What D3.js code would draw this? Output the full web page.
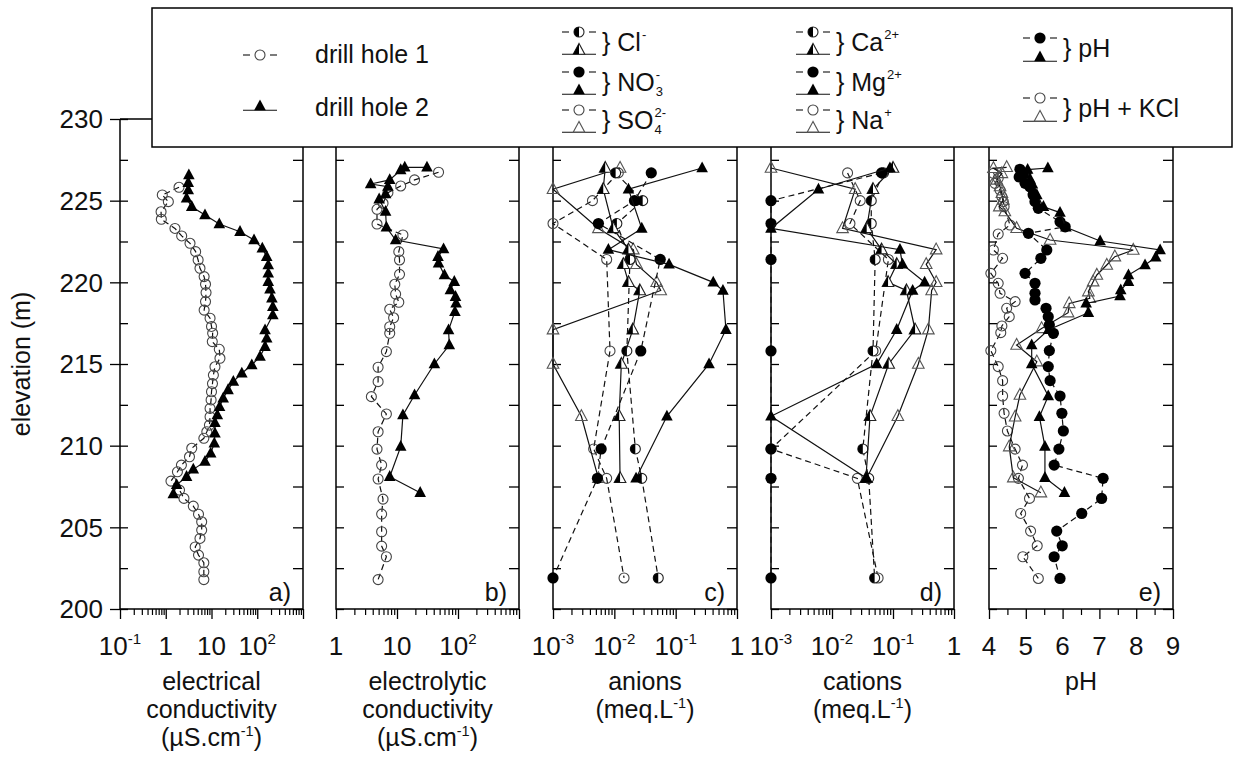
<!DOCTYPE html>
<html><head><meta charset="utf-8">
<script src="https://cdn.jsdelivr.net/npm/d3@7"></script>
<style>
body{margin:0;background:#fff}
svg{display:block}
text{font-family:"Liberation Sans",Arial,Helvetica,sans-serif;fill:#111}
</style>
</head><body>
<svg id="chart" width="1235" height="761"></svg>
<script>
// ================= DATA =================
// panel a) electrical conductivity (µS/cm)
const ecElev1 = [225.82,225.35,224.94,224.32,223.86,223.3,222.84,222.39,221.88,221.37,220.86,220.35,219.88,219.37,218.82,218.3,217.8,217.3,216.88,216.37,215.9,215.35,214.83,214.32,213.8,213.3,212.8,212.28,211.77,211.26,210.85,210.45,209.84,209.32,208.81,208.4,207.83,207.28,206.77,206.3,205.8,205.34,204.83,204.32,203.8,203.3,202.83,202.28,201.8];
const ecVal1 = [1.95,0.84,1.14,0.79,0.8,1.59,2.23,3.39,4.5,5.1,5.6,6.9,7.4,7.6,7.4,6.9,9.3,10,10.6,10.4,14.8,15.3,11.9,11,10.5,10,9.8,9.3,9.3,9.0,7.9,6.8,3.7,3.3,2.2,1.8,1.3,2.0,2.5,4.0,5.2,6.1,6.1,5.6,4.4,5.2,6.8,6.8,6.8];
const ecElev2 = [226.57,226.1,225.65,225.14,224.63,224.12,223.57,223.1,222.59,222.08,221.57,221.06,220.55,220.04,219.58,219.03,218.5,218.0,217.08,216.57,216.06,215.45,214.94,214.43,213.92,213.41,212.9,212.38,211.87,211.4,210.75,210.14,209.53,209.02,208.55,208.1,207.6,207.04];
const ecVal2 = [3.2,3.1,3.1,2.85,3.7,7.2,14.8,42,85,129,161,174,174,174,190,209,219,219,148,161,148,115,76,46,30,23,18,15,13.4,11.9,11.9,11.5,9.6,7.2,4.0,2.85,1.73,1.46];

// panel b) electrolytic conductivity (µS/cm)
const elElev1 = [226.74,226.27,225.9,225.49,224.84,224.47,223.57,222.9,221.88,221.37,220.49,219.88,219.28,218.78,218.35,217.83,217.28,216.88,215.76,214.8,213.92,213.0,211.94,210.85,209.79,208.81,207.96,206.73,205.81,204.73,203.85,203.2,201.8];
const elVal1 = [48,19.4,11.5,7.1,5.9,4.7,4.7,12.5,10.7,11,11,9.2,9.5,10.7,7.6,8.8,7.6,7.6,6.7,4.9,4.9,3.8,6.7,4.9,4.7,5.6,4.9,5.9,5.6,5.6,5.6,6.7,4.9];
const elElev2 = [227.04,227.04,226.88,226.27,226.02,225.86,225.4,225.09,224.33,223.37,222.59,222.04,221.57,221.16,220.45,220.04,219.53,219.12,218.71,218.2,217.08,216.16,215.0,213.1,211.87,209.94,208.1,207.12];
const elVal2 = [31,13.4,11.5,7.6,3.7,7.1,6.5,5.1,6.5,6.7,9.5,58,47,48,60,87,75,91,93,89,70,72,41,19.4,12.5,11.5,7.6,24];

// panels c) and d): sampling elevations (m)
const chemElev1 = [226.7,225.0,223.6,221.4,215.8,209.8,208.0,201.9];
const chemElev2 = [227.0,225.7,223.3,222.0,221.1,220.0,219.5,217.1,215.0,211.8,208.0];
// anions (meq/L)
const cl1  = [0.0105,0.029,0.011,0.018,0.016,0.022,0.028,0.052];
const no3a = [0.04,0.0213,0.0055,0.056,0.027,0.0061,0.0053,0.001];
const so4a = [0.0116,0.0044,0.001,0.0075,0.0085,0.0046,0.0075,0.0144];
const cl2  = [0.0071,0.0066,0.0096,0.017,0.014,0.017,0.026,0.02,0.013,0.012,0.0124];
const no3b = [0.27,0.017,0.028,0.008,0.078,0.41,0.59,0.66,0.35,0.072,0.0226];
const so4b = [0.0124,0.001,0.0055,0.0204,0.023,0.049,0.057,0.001,0.001,0.0029,0.0055];
// cations (meq/L)
const ca1 = [0.07,0.044,0.044,0.051,0.047,0.032,0.04,0.05];
const mg1 = [0.065,0.001,0.001,0.001,0.001,0.001,0.001,0.001];
const na1 = [0.018,0.029,0.0197,0.084,0.052,0.001,0.026,0.057];
const ca2 = [0.1,0.047,0.037,0.065,0.115,0.083,0.166,0.23,0.085,0.042,0.036];
const mg2 = [0.089,0.006,0.001,0.13,0.143,0.33,0.21,0.115,0.054,0.001,0.037];
const na2 = [0.001,0.024,0.0149,0.51,0.35,0.51,0.43,0.38,0.26,0.12,0.037];

// panel e) pH
const phElev1 = [226.92,226.67,226.45,226.06,225.85,225.35,224.94,224.53,223.71,223.4,223.0,221.98,221.47,220.55,219.94,219.33,218.92,218.41,217.9,217.39,216.88,215.82,214.84,213.98,213.04,211.98,210.9,209.79,208.81,208.0,206.77,205.85,204.77,203.87,203.2,201.87];
const phVal1  = [4.84,5.0,4.82,4.98,5.11,5.2,5.25,5.34,5.93,6.07,5.07,5.57,5.41,4.98,5.25,5.25,5.25,5.55,5.61,5.64,5.75,5.64,5.61,5.66,5.93,5.98,6.02,5.9,5.77,7.1,7.06,6.52,5.84,5.99,5.77,5.93];
const kclElev1 = [226.67,226.37,226.06,225.65,225.24,224.94,224.63,223.51,222.96,221.98,221.47,220.55,219.94,219.33,218.82,218.41,217.9,217.33,216.92,215.82,214.84,213.98,213.04,211.98,210.9,209.79,208.81,208.0,206.77,205.85,204.77,203.87,203.2,201.87];
const kclVal1  = [4.12,4.25,4.16,4.3,4.35,4.39,4.41,4.57,4.25,4.12,4.37,4.05,4.25,4.3,4.71,4.48,4.55,4.35,4.32,4.05,4.25,4.37,4.37,4.41,4.5,4.71,4.91,4.8,5.1,4.86,5.13,5.31,4.92,5.34];
const phElev2 = [227.0,226.9,226.3,226.0,225.65,225.35,224.63,224.27,223.37,222.53,221.98,221.53,221.06,220.45,220.04,219.53,219.16,218.71,218.14,217.1,216.16,215.0,213.04,211.77,209.94,208.04,207.12];
const phVal2  = [5.6,5.05,5.12,5.18,5.2,5.3,5.48,5.93,6.09,7.02,8.65,8.53,8.24,7.79,7.79,7.58,7.56,6.64,6.7,5.62,5.16,5.16,5.61,5.37,5.52,5.52,6.05];
const kclElev2 = [227.04,226.98,226.67,226.27,225.86,225.45,225.04,224.63,224.33,223.31,222.59,221.98,221.57,221.06,220.45,220.04,219.43,219.02,218.71,218.14,217.18,216.16,215.14,213.1,211.77,209.94,208.04,207.12];
const kclVal2  = [4.48,4.12,4.35,4.21,4.3,4.35,4.39,4.28,4.43,4.75,5.66,7.92,7.42,7.2,6.93,6.83,6.7,6.74,6.18,6.15,5.43,4.75,5.3,4.84,4.71,4.55,4.66,5.41];

// axis tick labels
const yTickVals = [200,205,210,215,220,225,230];
const ticksA = [[0.1,"10","-1"],[1,"1",""],[10,"10",""],[100,"10","2"]];
const ticksB = [[1,"1",""],[10,"10",""],[100,"10","2"]];
const ticksCD = [[0.001,"10","-3"],[0.01,"10","-2"],[0.1,"10","-1"],[1,"1",""]];
const ticksE = [4,5,6,7,8,9];

// ================= DRAW =================
const svg = d3.select("#chart");
const yTop = 119, yBot = 609;
const y = d3.scaleLinear().domain([200,230]).range([yBot,yTop]);

const panels = [
  {id:"a", x: d3.scaleLog().domain([0.1,1000]).range([120,303]), ticks:ticksA, title:["electrical","conductivity","(µS.cm|-1|)"]},
  {id:"b", x: d3.scaleLog().domain([1,1000]).range([336,519]), ticks:ticksB, title:["electrolytic","conductivity","(µS.cm|-1|)"]},
  {id:"c", x: d3.scaleLog().domain([0.001,1]).range([553,737]), ticks:ticksCD, title:["anions","(meq.L|-1|)"]},
  {id:"d", x: d3.scaleLog().domain([0.001,1]).range([771,954]), ticks:ticksCD, title:["cations","(meq.L|-1|)"]},
  {id:"e", x: d3.scaleLinear().domain([4,9]).range([989,1173]), ticks:null, title:["pH"]}
];

function marker(g, type, cx, cy){
  const r = 5;
  if (type[0]==="c"){
    if (type==="co") g.append("circle").attr("cx",cx).attr("cy",cy).attr("r",r).attr("fill","none").attr("stroke","#444").attr("stroke-width",1.1);
    else if (type==="cf") g.append("circle").attr("cx",cx).attr("cy",cy).attr("r",5.6).attr("fill","#000");
    else {
      g.append("circle").attr("cx",cx).attr("cy",cy).attr("r",r).attr("fill","#fff").attr("stroke","#222").attr("stroke-width",1.1);
      g.append("path").attr("d",`M${cx},${cy-r}A${r},${r} 0 0 0 ${cx},${cy+r}Z`).attr("fill","#000");
    }
  } else {
    const t=-6.6, b=4.2, w=5.8;
    const p = [[cx,cy+t],[cx-w,cy+b],[cx+w,cy+b]];
    const d = "M"+p.map(q=>q.join(",")).join("L")+"Z";
    if (type==="tf") g.append("path").attr("d",d).attr("fill","#000");
    else if (type==="to") g.append("path").attr("d",d).attr("fill","none").attr("stroke","#555").attr("stroke-width",1.1);
    else {
      g.append("path").attr("d",d).attr("fill","#fff").attr("stroke","#222").attr("stroke-width",1.1);
      g.append("path").attr("d",`M${cx},${cy+t}L${cx-w},${cy+b}L${cx},${cy+b}Z`).attr("fill","#000");
    }
  }
}

function series(g, xs, elev, vals, dashed, type){
  const pts = elev.map((e,i)=>[xs(vals[i]), y(e)]);
  g.append("path").attr("d", d3.line()(pts)).attr("fill","none")
    .attr("stroke","#111").attr("stroke-width",1.2)
    .attr("stroke-dasharray", dashed ? "6,4" : null);
  const mg = g.append("g");
  pts.forEach(p=>marker(mg, type, p[0], p[1]));
}

function supText(g, x, y0, parts, size, anchor){
  const [a,b,c] = parts.split("|");
  const t = g.append("text").attr("x",x).attr("y",y0).attr("font-size",size).attr("text-anchor",anchor||"middle");
  t.append("tspan").text(a);
  if (b!==undefined){
    t.append("tspan").attr("font-size",size*0.58).attr("dy",-size*0.42).text(b);
    if (c) t.append("tspan").attr("dy",size*0.42).text(c);
  }
  return t;
}

const minorY = d3.range(200,230.01,2.5);
panels.forEach((P,pi)=>{
  const g = svg.append("g");
  const [x0,x1] = P.x.range();
  g.append("path").attr("d",`M${x0},${yTop}V${yBot}H${x1}V${yTop}H${x0}`).attr("fill","none").attr("stroke","#000").attr("stroke-width",1.5);
  g.append("g").attr("transform",`translate(${x0},0)`)
    .call(d3.axisLeft(y).tickValues(minorY).tickSize(-8).tickSizeOuter(0).tickFormat(""))
    .call(s=>s.select(".domain").remove()).selectAll("line").attr("stroke-width",1.3);
  g.append("g").attr("transform",`translate(${x1},0)`)
    .call(d3.axisRight(y).tickValues(minorY).tickSize(-10).tickSizeOuter(0).tickFormat(""))
    .call(s=>s.select(".domain").remove()).selectAll("line").attr("stroke-width",1.3);
  if (pi===0){
    g.append("g").attr("transform",`translate(${x0},0)`)
      .call(d3.axisLeft(y).tickValues(yTickVals).tickSize(10).tickSizeOuter(0).tickFormat(""))
      .call(s=>s.select(".domain").remove()).selectAll("line").attr("stroke-width",1.3);
    yTickVals.forEach(v=>{
      g.append("text").attr("x",103).attr("y",y(v)).attr("dy","0.36em").attr("text-anchor","end")
        .attr("font-size",26).text(v);
    });
  }
  let majors, minors;
  if (P.ticks){
    const [d0,d1] = P.x.domain();
    majors = []; minors = [];
    const e0 = Math.round(Math.log10(d0)), e1 = Math.round(Math.log10(d1));
    for (let e=e0; e<=e1; e++){
      majors.push(Math.pow(10,e));
      if (e<e1) for (let k=2;k<=9;k++) minors.push(k*Math.pow(10,e));
    }
  } else {
    majors = ticksE; minors = d3.range(4.5,9,1);
  }
  g.append("g").attr("transform",`translate(0,${yBot})`)
    .call(d3.axisBottom(P.x).tickValues(minors).tickSize(6).tickSizeOuter(0).tickFormat(""))
    .call(s=>s.select(".domain").remove()).selectAll("line").attr("stroke-width",1.2);
  g.append("g").attr("transform",`translate(0,${yBot})`)
    .call(d3.axisBottom(P.x).tickValues(majors).tickSize(10).tickSizeOuter(0).tickFormat(""))
    .call(s=>s.select(".domain").remove()).selectAll("line").attr("stroke-width",1.3);
  const labY = 655;
  if (P.ticks){
    P.ticks.forEach(([v,m,s])=> supText(g, P.x(v), labY, s ? `${m}|${s}` : m, 26));
  } else {
    ticksE.forEach(v=> g.append("text").attr("x",P.x(v)).attr("y",labY).attr("text-anchor","middle").attr("font-size",26).text(v));
  }
  const cx = (x0+x1)/2;
  P.title.forEach((t,i)=> supText(g, cx, 690 + i*28, t, 25));
  g.append("text").attr("x",x1-12).attr("y",yBot-8).attr("text-anchor","end").attr("font-size",25).text(P.id+")");
  P.g = g;
});

svg.append("text").attr("transform",`translate(30,${(yTop+yBot)/2}) rotate(-90)`)
  .attr("text-anchor","middle").attr("font-size",25).text("elevation (m)");

const [pa,pb,pc,pd,pe] = panels;
series(pa.g, pa.x, ecElev1, ecVal1, true, "co");
series(pa.g, pa.x, ecElev2, ecVal2, false, "tf");
series(pb.g, pb.x, elElev1, elVal1, true, "co");
series(pb.g, pb.x, elElev2, elVal2, false, "tf");

series(pc.g, pc.x, chemElev1, so4a, true, "co");
series(pc.g, pc.x, chemElev2, so4b, false, "to");
series(pc.g, pc.x, chemElev1, cl1, true, "ch");
series(pc.g, pc.x, chemElev2, cl2, false, "th");
series(pc.g, pc.x, chemElev1, no3a, true, "cf");
series(pc.g, pc.x, chemElev2, no3b, false, "tf");

series(pd.g, pd.x, chemElev1, na1, true, "co");
series(pd.g, pd.x, chemElev2, na2, false, "to");
series(pd.g, pd.x, chemElev1, ca1, true, "ch");
series(pd.g, pd.x, chemElev2, ca2, false, "th");
series(pd.g, pd.x, chemElev1, mg1, true, "cf");
series(pd.g, pd.x, chemElev2, mg2, false, "tf");

series(pe.g, pe.x, kclElev1, kclVal1, true, "co");
series(pe.g, pe.x, kclElev2, kclVal2, false, "to");
series(pe.g, pe.x, phElev1, phVal1, true, "cf");
series(pe.g, pe.x, phElev2, phVal2, false, "tf");

// ================= LEGEND =================
const lg = svg.append("g");
lg.append("rect").attr("x",152).attr("y",8).attr("width",1080).attr("height",139)
  .attr("fill","#fff").attr("stroke","#000").attr("stroke-width",1.5);
function legSym(cx, cy, dashed, type){
  if (dashed){
    lg.append("line").attr("x1",cx-17).attr("x2",cx-10).attr("y1",cy).attr("y2",cy).attr("stroke","#111").attr("stroke-width",1.1);
    lg.append("line").attr("x1",cx+10).attr("x2",cx+17).attr("y1",cy).attr("y2",cy).attr("stroke","#111").attr("stroke-width",1.1);
  } else {
    lg.append("line").attr("x1",cx-17).attr("x2",cx+17).attr("y1",cy+4.2).attr("y2",cy+4.2).attr("stroke","#111").attr("stroke-width",1.1);
  }
  marker(lg, type, cx, cy);
}
function ionLabel(x, yb, base, sup, sub){
  const t = lg.append("text").attr("x",x).attr("y",yb).attr("font-size",25).text(base);
  const w = t.node().getComputedTextLength();
  if (sup) lg.append("text").attr("x",x+w+1).attr("y",yb-12).attr("font-size",13).text(sup);
  if (sub) lg.append("text").attr("x",x+w+1).attr("y",yb+5).attr("font-size",13).text(sub);
}
legSym(260, 55, true, "co");
lg.append("text").attr("x",315).attr("y",63).attr("font-size",25).text("drill hole 1");
legSym(260, 106, false, "tf");
lg.append("text").attr("x",315).attr("y",116).attr("font-size",25).text("drill hole 2");

const rows = [[32,50],[72,90],[110,128]];
const anions = [["ch","th","} Cl","-",""],["cf","tf","} NO","-","3"],["co","to","} SO","2-","4"]];
const cations = [["ch","th","} Ca","2+",""],["cf","tf","} Mg","2+",""],["co","to","} Na","+",""]];
anions.forEach((a,i)=>{ legSym(579,rows[i][0],true,a[0]); legSym(579,rows[i][1],false,a[1]); ionLabel(602,rows[i][1]+1,a[2],a[3],a[4]); });
cations.forEach((a,i)=>{ legSym(813,rows[i][0],true,a[0]); legSym(813,rows[i][1],false,a[1]); ionLabel(836,rows[i][1]+1,a[2],a[3],a[4]); });
legSym(1040, 38, true, "cf"); legSym(1040, 57, false, "tf");
ionLabel(1063, 57, "} pH", "", "");
legSym(1040, 98, true, "co"); legSym(1040, 117, false, "to");
ionLabel(1063, 117, "} pH + KCl", "", "");
</script>
</body></html>
